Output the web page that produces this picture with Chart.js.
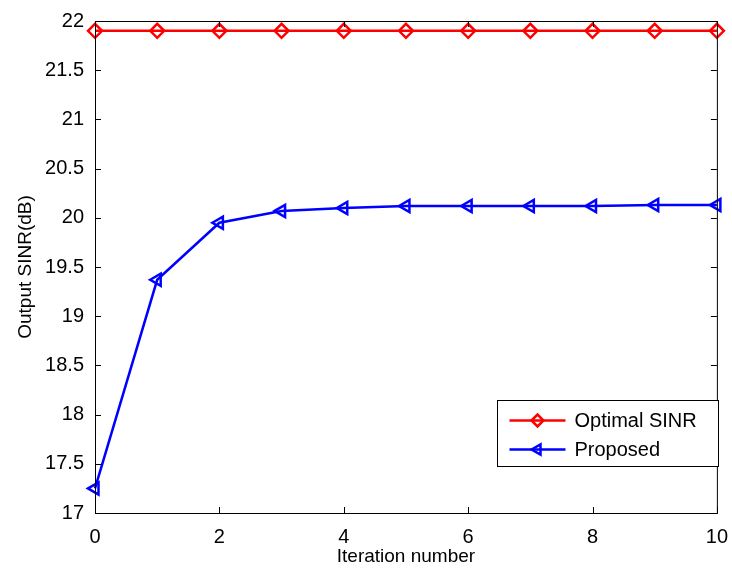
<!DOCTYPE html>
<html>
<head>
<meta charset="utf-8">
<script src="https://cdn.jsdelivr.net/npm/chart.js@4"></script>
<style>
  html, body { margin: 0; padding: 0; background: #fff; }
  #wrap { width: 732px; height: 568px; }
</style>
</head>
<body>
<div id="wrap"><canvas id="c" width="732" height="568"></canvas></div>
<script>
// data
const iterations = [0, 1, 2, 3, 4, 5, 6, 7, 8, 9, 10];
const optimalSinr = [21.9, 21.9, 21.9, 21.9, 21.9, 21.9, 21.9, 21.9, 21.9, 21.9, 21.9];
const proposedSinr = [17.25, 19.37, 19.95, 20.07, 20.10, 20.12, 20.12, 20.12, 20.12, 20.13, 20.13];
const seriesNames = ["Optimal SINR", "Proposed"];
const xTitle = "Iteration number";
const yTitle = "Output SINR(dB)";

const FONT = "'Liberation Sans', Arial, Helvetica, sans-serif";

// matlab-ish box + inward ticks + legend
const matlabBox = {
    id: "matlabBox",
    afterDatasetsDraw(chart) {
        const ctx = chart.ctx;
        const a = chart.chartArea;
        const xs = chart.scales.x, ys = chart.scales.y;
        ctx.save();
        ctx.strokeStyle = "#000";
        ctx.lineWidth = 1;
        ctx.strokeRect(a.left + 0.5, a.top + 0.5, a.right - a.left, a.bottom - a.top);
        const t = 6;
        ctx.beginPath();
        xs.ticks.forEach(tk => {
            const px = Math.round(xs.getPixelForValue(tk.value)) + 0.5;
            ctx.moveTo(px, a.bottom); ctx.lineTo(px, a.bottom - t);
            ctx.moveTo(px, a.top); ctx.lineTo(px, a.top + t);
        });
        ys.ticks.forEach(tk => {
            const py = Math.round(ys.getPixelForValue(tk.value)) + 0.5;
            ctx.moveTo(a.left, py); ctx.lineTo(a.left + t, py);
            ctx.moveTo(a.right, py); ctx.lineTo(a.right - t, py);
        });
        ctx.stroke();

        // legend
        const lx = 497.5, ly = 400.5, lw = 221, lh = 66;
        ctx.fillStyle = "#fff";
        ctx.fillRect(lx, ly, lw, lh);
        ctx.strokeRect(lx, ly, lw, lh);
        ctx.font = "20px " + FONT;
        ctx.textBaseline = "middle";
        chart.data.datasets.forEach((ds, i) => {
            const y = ly + 20 + i * 29;
            ctx.strokeStyle = ds.borderColor;
            ctx.lineWidth = 2.5;
            ctx.beginPath();
            ctx.moveTo(lx + 12, y); ctx.lineTo(lx + 68, y);
            ctx.stroke();
            ctx.fillStyle = "rgba(0,0,0,0)";
            Chart.helpers.drawPoint(ctx, {
                pointStyle: ds.pointStyle, radius: 6, rotation: ds.pointRotation || 0, borderWidth: 2.5
            }, lx + 40, y);
            ctx.fillStyle = "#000";
            ctx.fillText(ds.label, lx + 77, y + 1);
        });
        ctx.restore();
    }
};

new Chart(document.getElementById("c"), {
    type: "line",
    data: {
        labels: iterations,
        datasets: [
            {
                label: seriesNames[0],
                data: optimalSinr.map((v, i) => ({ x: iterations[i], y: v })),
                borderColor: "#ff0000",
                backgroundColor: "rgba(0,0,0,0)",
                borderWidth: 2.5,
                pointStyle: "rectRot",
                pointRadius: 7,
                pointBorderWidth: 2.5,
                pointBackgroundColor: "rgba(0,0,0,0)",
                tension: 0
            },
            {
                label: seriesNames[1],
                data: proposedSinr.map((v, i) => ({ x: iterations[i], y: v })),
                borderColor: "#0000ff",
                backgroundColor: "rgba(0,0,0,0)",
                borderWidth: 2.5,
                pointStyle: "triangle",
                pointRotation: -90,
                pointRadius: 7,
                pointBorderWidth: 2.5,
                pointBackgroundColor: "rgba(0,0,0,0)",
                tension: 0
            }
        ]
    },
    options: {
        responsive: false,
        animation: false,
        clip: false,
        layout: { padding: { left: 10, top: 21, right: 13, bottom: 0 } },
        plugins: { legend: { display: false }, tooltip: { enabled: false } },
        scales: {
            x: {
                type: "linear",
                min: 0, max: 10,
                ticks: { stepSize: 2, color: "#000", font: { family: FONT, size: 20 }, padding: 4 },
                grid: { display: false },
                border: { display: false },
                title: { display: true, text: xTitle, color: "#000", font: { family: FONT, size: 19 }, padding: { top: 0, bottom: 0 } },
                afterFit(s) { s.height = 55; }
            },
            y: {
                min: 17, max: 22,
                ticks: {
                    stepSize: 0.5, color: "#000", font: { family: FONT, size: 20 }, padding: 3,
                    callback: v => String(Math.round(v * 10) / 10)
                },
                grid: { display: false },
                border: { display: false },
                title: { display: true, text: yTitle, color: "#000", font: { family: FONT, size: 19 }, padding: { bottom: 0 } },
                afterFit(s) { s.width = 85; }
            }
        }
    },
    plugins: [matlabBox]
});
</script>
</body>
</html>
